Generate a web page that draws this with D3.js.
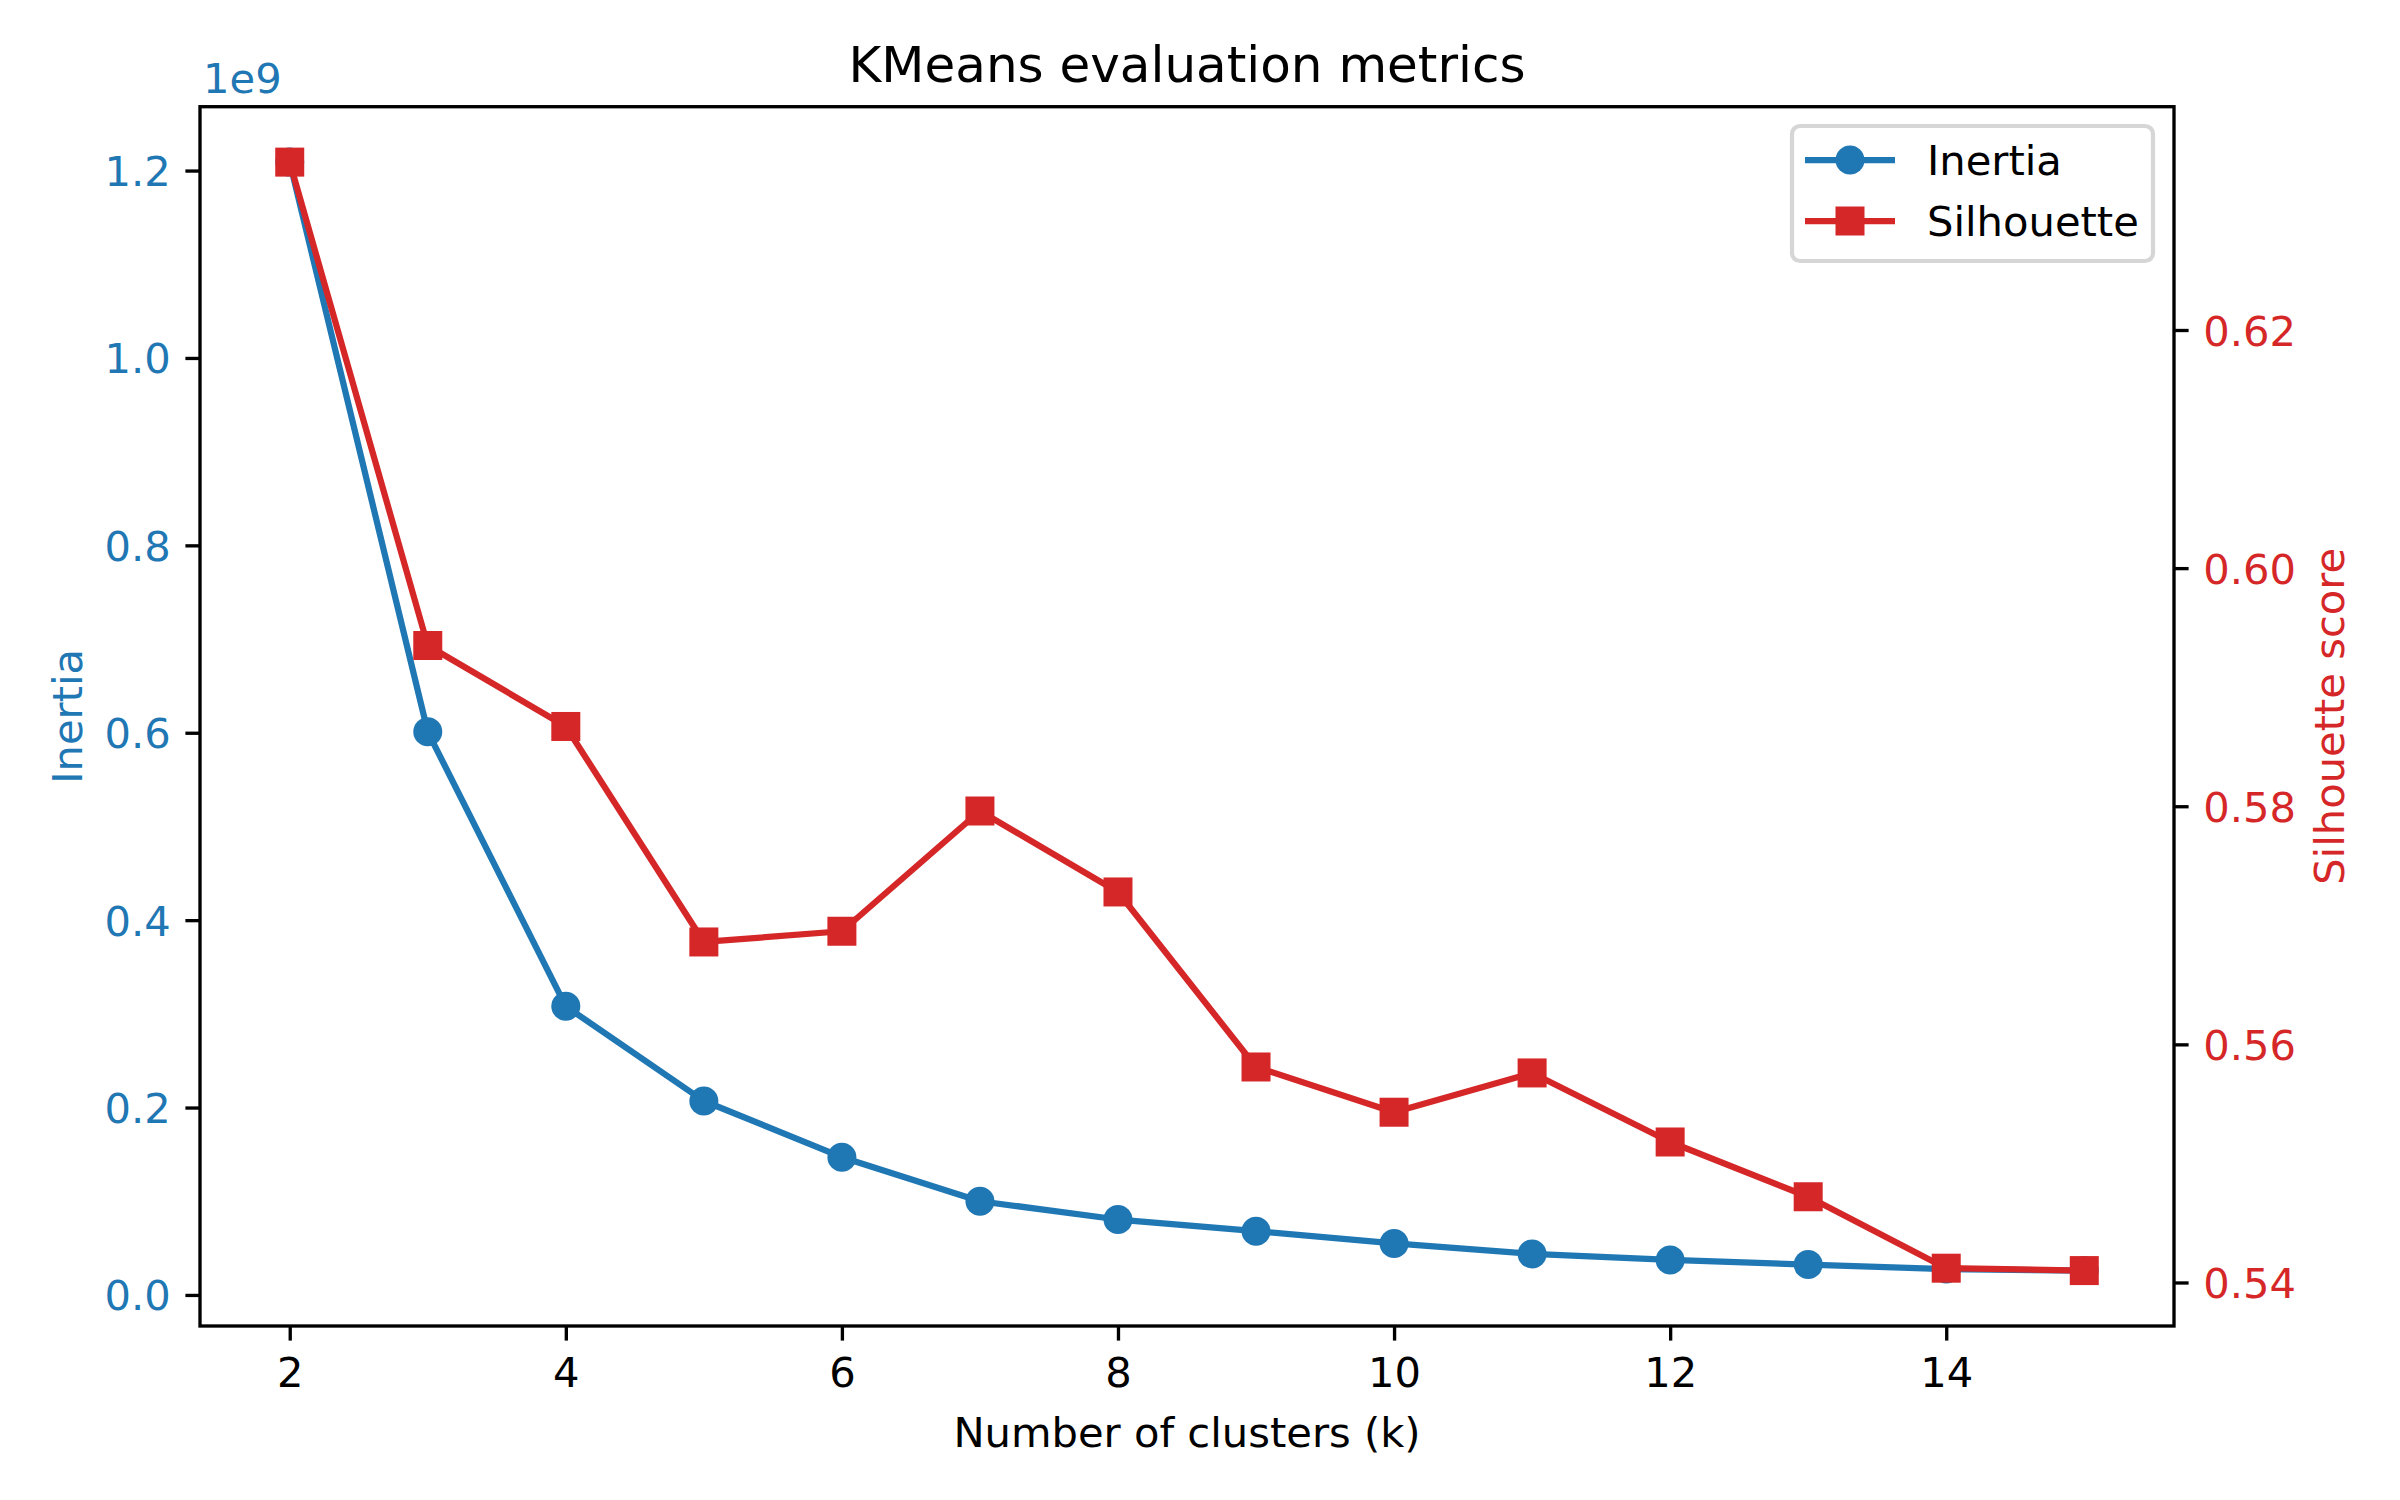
<!DOCTYPE html>
<html>
<head>
<meta charset="utf-8">
<script src="https://cdn.jsdelivr.net/npm/d3@7"></script>
<style>
  body { margin: 0; background: #fff; }
  svg { display: block; font-family: "DejaVu Sans", sans-serif; }
</style>
</head>
<body>
<svg id="chart" width="2400" height="1500"></svg>
<script>
// data
const ks = [2, 3, 4, 5, 6, 7, 8, 9, 10, 11, 12, 13, 14, 15];
const inertia = [1.209e9, 0.601e9, 0.308e9, 0.207e9, 0.147e9, 0.1e9, 0.0805e9, 0.068e9,
  0.055e9, 0.0438e9, 0.0373e9, 0.0324e9, 0.0276e9, 0.026e9];
const silhouette = [0.6341, 0.5935, 0.5867, 0.5686, 0.5695, 0.5796, 0.5728, 0.5581,
  0.5543, 0.5576, 0.5518, 0.5472, 0.5412, 0.5410];
const xTicks = [2, 4, 6, 8, 10, 12, 14];
const inertiaTicks = [0, 0.2e9, 0.4e9, 0.6e9, 0.8e9, 1.0e9, 1.2e9];
const silTicks = [0.54, 0.56, 0.58, 0.60, 0.62];

const blue = "#1f77b4", red = "#d62728";
const fs = 41.67;
const tick = 14.6;
const m = { left: 200, right: 2174, top: 106.7, bottom: 1326 };
const svg = d3.select("#chart");

// matplotlib-style 5% margins
function padded(vals) {
  const [lo, hi] = d3.extent(vals);
  const p = (hi - lo) * 0.05;
  return [lo - p, hi + p];
}

const x = d3.scaleLinear().domain(padded(ks)).range([m.left, m.right]);
const y1 = d3.scaleLinear().domain(padded(inertia)).range([m.bottom, m.top]);
const y2 = d3.scaleLinear().domain(padded(silhouette)).range([m.bottom, m.top]);

// inertia series
const g1 = svg.append("g");
g1.append("path")
  .datum(ks.map((k, i) => [k, inertia[i]]))
  .attr("fill", "none")
  .attr("stroke", blue)
  .attr("stroke-width", 6.25)
  .attr("stroke-linejoin", "round")
  .attr("d", d3.line().x(d => x(d[0])).y(d => y1(d[1])));
g1.selectAll("circle")
  .data(ks.map((k, i) => [k, inertia[i]]))
  .join("circle")
  .attr("cx", d => x(d[0]))
  .attr("cy", d => y1(d[1]))
  .attr("r", 14.5)
  .attr("fill", blue);

// silhouette series
const g2 = svg.append("g");
g2.append("path")
  .datum(ks.map((k, i) => [k, silhouette[i]]))
  .attr("fill", "none")
  .attr("stroke", red)
  .attr("stroke-width", 6.25)
  .attr("stroke-linejoin", "round")
  .attr("d", d3.line().x(d => x(d[0])).y(d => y2(d[1])));
g2.selectAll("rect")
  .data(ks.map((k, i) => [k, silhouette[i]]))
  .join("rect")
  .attr("x", d => x(d[0]) - 14.5)
  .attr("y", d => y2(d[1]) - 14.5)
  .attr("width", 29)
  .attr("height", 29)
  .attr("fill", red);

// axes
function styleAxis(g, color) {
  g.select(".domain").remove();
  g.selectAll(".tick line").attr("stroke", "#000").attr("stroke-width", 3.33);
  g.selectAll(".tick text")
    .attr("fill", color)
    .style("font-size", fs + "px")
    .style("font-family", "DejaVu Sans");
}

const ax = svg.append("g")
  .attr("transform", `translate(0,${m.bottom})`)
  .call(d3.axisBottom(x).tickValues(xTicks).tickSize(tick).tickPadding(tick).tickFormat(d3.format("d")));
styleAxis(ax, "#000");
ax.selectAll(".tick text").attr("dy", "0.76em");

const ayl = svg.append("g")
  .attr("transform", `translate(${m.left},0)`)
  .call(d3.axisLeft(y1).tickValues(inertiaTicks).tickSize(tick).tickPadding(tick).tickFormat(d => (d / 1e9).toFixed(1)));
styleAxis(ayl, blue);
ayl.selectAll(".tick text").attr("dy", "0.36em");

const ayr = svg.append("g")
  .attr("transform", `translate(${m.right},0)`)
  .call(d3.axisRight(y2).tickValues(silTicks).tickSize(tick).tickPadding(tick).tickFormat(d3.format(".2f")));
styleAxis(ayr, red);
ayr.selectAll(".tick text").attr("dy", "0.36em");

// frame
svg.append("rect")
  .attr("x", m.left).attr("y", m.top)
  .attr("width", m.right - m.left).attr("height", m.bottom - m.top)
  .attr("fill", "none")
  .attr("stroke", "#000")
  .attr("stroke-width", 3.33);

// texts
svg.append("text")
  .attr("x", (m.left + m.right) / 2).attr("y", 81.7)
  .attr("text-anchor", "middle")
  .style("font-size", "50px")
  .text("KMeans evaluation metrics");

svg.append("text")
  .attr("x", 203).attr("y", 93)
  .attr("fill", blue)
  .style("font-size", fs + "px")
  .text("1e9");

svg.append("text")
  .attr("x", (m.left + m.right) / 2).attr("y", 1447)
  .attr("text-anchor", "middle")
  .style("font-size", fs + "px")
  .text("Number of clusters (k)");

svg.append("text")
  .attr("transform", `translate(82,${(m.top + m.bottom) / 2}) rotate(-90)`)
  .attr("text-anchor", "middle")
  .attr("fill", blue)
  .style("font-size", fs + "px")
  .text("Inertia");

svg.append("text")
  .attr("transform", `translate(2344,${(m.top + m.bottom) / 2}) rotate(-90)`)
  .attr("text-anchor", "middle")
  .attr("fill", red)
  .style("font-size", fs + "px")
  .text("Silhouette score");

// legend
const legend = svg.append("g");
legend.append("rect")
  .attr("x", 1792).attr("y", 126)
  .attr("width", 361).attr("height", 135)
  .attr("rx", 8)
  .attr("fill", "rgba(255,255,255,0.8)")
  .attr("stroke", "#d6d6d6")
  .attr("stroke-width", 4.2);

const items = [
  { name: "Inertia", color: blue, shape: "circle" },
  { name: "Silhouette", color: red, shape: "square" }
];
items.forEach((it, i) => {
  const cy = 160 + i * 61;
  legend.append("line")
    .attr("x1", 1805).attr("x2", 1895)
    .attr("y1", cy).attr("y2", cy)
    .attr("stroke", it.color)
    .attr("stroke-width", 6.25);
  if (it.shape === "circle") {
    legend.append("circle").attr("cx", 1850).attr("cy", cy).attr("r", 14.5).attr("fill", it.color);
  } else {
    legend.append("rect").attr("x", 1835.5).attr("y", cy - 14.5).attr("width", 29).attr("height", 29).attr("fill", it.color);
  }
  legend.append("text")
    .attr("x", 1927).attr("y", cy + 15)
    .style("font-size", fs + "px")
    .text(it.name);
});
</script>
</body>
</html>
